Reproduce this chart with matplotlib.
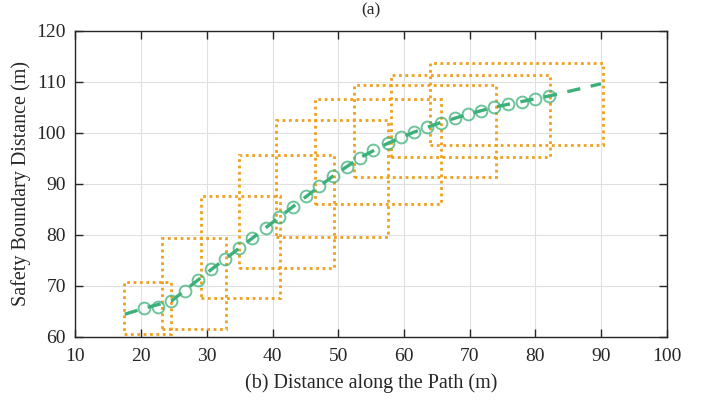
import matplotlib
matplotlib.use('Agg')
import matplotlib.pyplot as plt
from matplotlib.patches import Rectangle

plt.rcParams['font.family'] = ['Liberation Serif', 'DejaVu Serif']
plt.rcParams['mathtext.fontset'] = 'stix'

# sampled points along the path (green circles)
pts_x = [20.5, 22.5, 24.6, 26.7, 28.7, 30.7, 32.8, 34.9, 36.9, 39.0, 41.0,
         43.1, 45.1, 47.1, 49.2, 51.3, 53.3, 55.3, 57.5, 59.5, 61.5, 63.5,
         65.6, 67.7, 69.7, 71.8, 73.7, 75.9, 77.9, 79.9, 82.1]
pts_y = [65.6, 65.8, 67.0, 69.0, 71.1, 73.2, 75.2, 77.3, 79.3, 81.4, 83.5,
         85.5, 87.6, 89.5, 91.5, 93.3, 95.1, 96.6, 97.9, 99.1, 100.1, 101.1,
         102.0, 102.8, 103.6, 104.3, 105.0, 105.6, 106.1, 106.6, 107.2]

# fitted boundary (green dashed)
fit_x = [17.5, 20.5, 24.6, 30.7, 36.9, 43.1, 49.2, 53.3, 57.5, 61.5, 65.6,
         69.7, 73.7, 77.9, 82.1, 90.0]
fit_y = [64.4, 65.6, 67.0, 73.2, 79.3, 85.5, 91.5, 95.1, 97.9, 100.1, 102.0,
         103.6, 105.0, 106.1, 107.2, 109.6]

# safety boxes (orange dotted): left, right, bottom, top
box_x0 = [17.4, 23.2, 29.1, 34.9, 40.6, 46.5, 52.4, 58.1, 64.0]
box_x1 = [24.5, 32.9, 41.1, 49.3, 57.5, 65.7, 74.0, 82.2, 90.3]
box_y0 = [60.6, 61.6, 67.5, 73.4, 79.6, 86.0, 91.4, 95.3, 97.6]
box_y1 = [70.8, 79.3, 87.6, 95.6, 102.5, 106.7, 109.4, 111.4, 113.6]

green = '#3DB07A'
orange = '#F0A01E'

fig = plt.figure(figsize=(7.1, 4.03), dpi=100)
ax = fig.add_axes([0.1063, 0.1645, 0.8327, 0.7593])

for x0, x1, y0, y1 in zip(box_x0, box_x1, box_y0, box_y1):
    ax.add_patch(Rectangle((x0, y0), x1 - x0, y1 - y0, fill=False,
                           edgecolor=orange, linestyle=(0, (1, 1.3)), lw=2.0, zorder=2))

ax.plot(fit_x, fit_y, color=green, lw=2.4, linestyle=(0, (4, 3.2)), zorder=3)
ax.plot(pts_x, pts_y, 'o', mfc='none', mec=green, mew=1.4, ms=8.5, alpha=0.75, zorder=4)

ax.set_xlim(10, 100)
ax.set_ylim(60, 120)
ax.set_xticks(range(10, 101, 10))
ax.set_yticks(range(60, 121, 10))
ax.grid(True, color='#e0e0e0', lw=0.8)
ax.set_axisbelow(True)
ax.tick_params(direction='in', top=True, right=True, length=6, width=1,
               labelsize=14, colors='#262626')
ax.tick_params(axis='x', pad=8)
ax.tick_params(axis='y', pad=7)
for s in ax.spines.values():
    s.set_color('#262626')
    s.set_linewidth(1.0)

ax.set_xlabel('(b) Distance along the Path (m)', fontsize=14.5, color='#262626', labelpad=6)
ax.set_ylabel('Safety Boundary Distance (m)', fontsize=14.5, color='#262626', labelpad=4)
ax.set_title('(a)', fontsize=12.5, color='#262626', pad=12)

fig.savefig('out.png', dpi=100)
